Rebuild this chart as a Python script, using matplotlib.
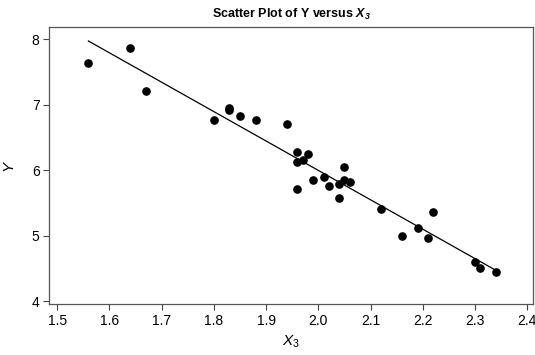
import numpy as np
import matplotlib
matplotlib.use("Agg")
import matplotlib.pyplot as plt

# values
x3 = [1.56, 1.64, 1.67, 1.80, 1.83, 1.83, 1.85, 1.88, 1.94,
      1.96, 1.96, 1.96, 1.97, 1.98, 1.99, 2.01, 2.02, 2.04, 2.04,
      2.05, 2.05, 2.06, 2.12, 2.16, 2.19, 2.21, 2.22, 2.30, 2.31, 2.34]
y = [7.64, 7.87, 7.21, 6.76, 6.95, 6.91, 6.83, 6.77, 6.70,
     6.28, 6.13, 5.71, 6.16, 6.25, 5.85, 5.89, 5.75, 5.79, 5.58,
     6.04, 5.85, 5.82, 5.40, 5.00, 5.11, 4.97, 5.36, 4.59, 4.50, 4.45]
x_ticks = [1.5, 1.6, 1.7, 1.8, 1.9, 2.0, 2.1, 2.2, 2.3, 2.4]
y_ticks = [4, 5, 6, 7, 8]

plt.rcParams['font.family'] = ['Liberation Sans', 'DejaVu Sans']
plt.rcParams['mathtext.fontset'] = 'custom'
plt.rcParams['mathtext.rm'] = 'Liberation Sans'
plt.rcParams['mathtext.it'] = 'Liberation Sans:italic'
plt.rcParams['mathtext.bf'] = 'Liberation Sans:bold:italic'

fig = plt.figure(figsize=(5.35, 3.55), dpi=100)
ax = fig.add_axes([0.0921, 0.1428, 0.9041, 0.7803])

ax.plot(x3, y, 'o', color='black', markersize=5.2, zorder=3)

# least squares line
slope, intercept = np.polyfit(x3, y, 1)
xl = np.array([min(x3), max(x3)])
ax.plot(xl, intercept + slope * xl, color='black', linewidth=0.9)

ax.set_xlim(1.485, 2.411)
ax.set_ylim(3.95, 8.18)
ax.set_xticks(x_ticks)
ax.set_xticklabels([f"{t:.1f}" for t in x_ticks])
ax.set_yticks(y_ticks)
ax.tick_params(direction='out', length=4, width=0.8, color='#444444',
               labelsize=10, pad=3)
for s in ax.spines.values():
    s.set_color('#555555')
    s.set_linewidth(0.9)

ax.set_xlabel(r'$X_3$', fontsize=11, labelpad=4)
ax.set_ylabel('Y', fontsize=11, style='italic', labelpad=12)
ax.set_title(r'Scatter Plot of Y versus $\mathbf{X_3}$',
             fontsize=9, fontweight='bold', pad=7)

fig.savefig('out.png', dpi=100)
